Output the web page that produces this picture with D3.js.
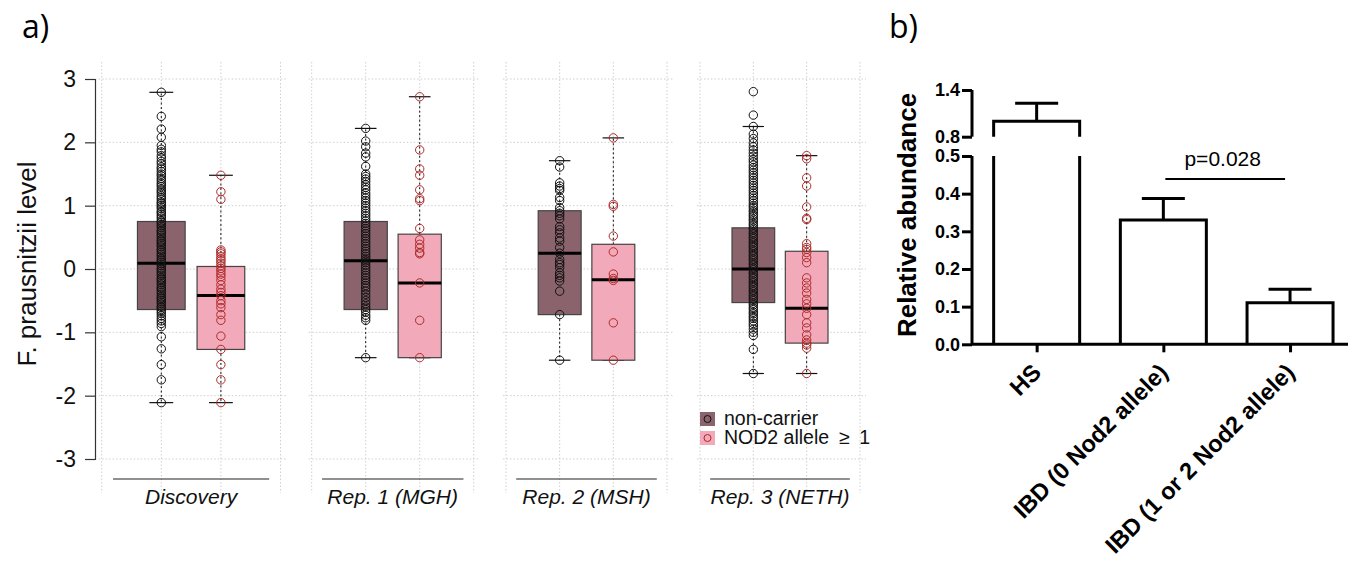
<!DOCTYPE html>
<html><head><meta charset="utf-8">
<script src="https://cdn.jsdelivr.net/npm/d3@7"></script>
<style>body{margin:0;background:#fff}</style>
</head><body><svg id="c" width="1348" height="565"></svg>
<script>
// ---------- DATA (panel a) ----------
const cohorts = ["Discovery", "Rep. 1 (MGH)", "Rep. 2 (MSH)", "Rep. 3 (NETH)"];
const groups = ["non-carrier", "NOD2 allele\u2002\u2265\u20021"];
// box stats: [lower whisker, Q1, median, Q3, upper whisker]
const statsNonCarrier = [[-2.11,-0.64,0.09,0.75,2.79],[-1.40,-0.64,0.13,0.75,2.22],[-1.44,-0.72,0.25,0.92,1.71],[-1.65,-0.53,0.00,0.65,2.25]];
const statsNod2 = [[-2.11,-1.27,-0.42,0.04,1.48],[-1.40,-1.40,-0.22,0.55,2.72],[-1.44,-1.44,-0.17,0.39,2.07],[-1.65,-1.17,-0.62,0.28,1.79]];
const ptsNonCarrier = [
 [2.79,2.41,2.21,2.08,1.95,1.89,1.85,1.79,1.75,1.7,1.66,1.61,1.58,1.54,1.5,1.47,1.43,1.4,1.36,1.33,1.3,1.26,1.23,1.2,1.16,1.13,1.1,1.06,1.04,1.01,0.98,0.95,0.91,0.89,0.86,0.83,0.8,0.76,0.74,0.71,0.68,0.65,0.61,0.59,0.56,0.53,0.5,0.46,0.44,0.41,0.38,0.35,0.31,0.29,0.26,0.23,0.2,0.16,0.14,0.11,0.08,0.05,0.01,-0.01,-0.04,-0.07,-0.1,-0.14,-0.16,-0.19,-0.22,-0.25,-0.29,-0.31,-0.34,-0.37,-0.4,-0.44,-0.46,-0.49,-0.52,-0.55,-0.59,-0.61,-0.64,-0.67,-0.7,-0.74,-0.78,-0.82,-0.86,-0.91,-1.07,-1.26,-1.51,-1.75,-2.11],
 [2.22,2.02,1.93,1.83,1.77,1.62,1.5,1.46,1.42,1.38,1.33,1.29,1.25,1.2,1.16,1.12,1.08,1.04,1.0,0.96,0.92,0.88,0.84,0.8,0.76,0.72,0.68,0.64,0.6,0.56,0.52,0.48,0.44,0.4,0.36,0.32,0.28,0.24,0.2,0.16,0.13,0.1,0.06,0.02,-0.02,-0.06,-0.1,-0.14,-0.18,-0.22,-0.26,-0.3,-0.35,-0.4,-0.45,-0.5,-0.55,-0.6,-0.64,-0.68,-0.73,-0.77,-0.81,-1.40],
 [1.71,1.61,1.36,1.31,1.27,1.24,1.13,1.08,0.97,0.92,0.88,0.84,0.79,0.67,0.62,0.57,0.49,0.44,0.34,0.25,0.15,0.1,0.07,0.02,-0.06,-0.1,-0.14,-0.19,-0.35,-0.72,-1.44],
 [2.80,2.43,2.25,2.13,2.06,1.99,1.93,1.88,1.83,1.78,1.73,1.69,1.64,1.6,1.56,1.52,1.48,1.44,1.4,1.36,1.32,1.28,1.24,1.2,1.16,1.12,1.08,1.04,1.0,0.97,0.93,0.9,0.86,0.83,0.79,0.76,0.72,0.69,0.65,0.62,0.58,0.55,0.51,0.48,0.44,0.41,0.37,0.34,0.3,0.27,0.23,0.2,0.16,0.13,0.09,0.06,0.02,-0.01,-0.05,-0.08,-0.12,-0.15,-0.19,-0.22,-0.26,-0.29,-0.33,-0.36,-0.4,-0.43,-0.47,-0.5,-0.54,-0.57,-0.61,-0.64,-0.68,-0.71,-0.75,-0.78,-0.82,-0.86,-0.9,-0.95,-1.0,-1.05,-1.27,-1.65]
];
const ptsNod2 = [
 [1.48,1.22,1.10,0.30,0.27,0.24,0.20,0.16,0.13,0.09,0.05,0.01,-0.03,-0.08,-0.12,-0.18,-0.25,-0.32,-0.37,-0.42,-0.5,-0.55,-0.61,-0.72,-0.81,-1.06,-1.27,-1.51,-1.75,-2.11],
 [2.72,1.88,1.58,1.48,1.25,1.11,1.08,0.64,0.46,0.39,0.33,0.26,0.24,-0.22,-0.81,-1.40],
 [2.07,1.02,0.99,0.52,0.27,-0.08,-0.15,-0.18,-0.85,-1.44],
 [1.79,1.74,1.44,1.31,0.98,0.8,0.78,0.4,0.34,0.31,0.26,0.18,0.1,-0.14,-0.22,-0.3,-0.38,-0.48,-0.55,-0.62,-0.72,-0.85,-0.93,-1.04,-1.12,-1.17,-1.2,-1.25,-1.65]
];
const yTicksA = [-3,-2,-1,0,1,2,3];
// ---------- DATA (panel b) ----------
const bCats = ["HS", "IBD (0 Nod2 allele)", "IBD (1 or 2 Nod2 allele)"];
const bMeans = [1.0, 0.33, 0.11];
const bErrTop = [1.23, 0.387, 0.146];
const bTicksLow = [0.0, 0.1, 0.2, 0.3, 0.4, 0.5];
const bTicksHigh = [0.8, 1.4];
const pText = "p=0.028";

// ---------- DRAW ----------
const svg = d3.select("#c");
svg.append("rect").attr("width",1348).attr("height",565).attr("fill","#fff");
const F = "'Liberation Sans', Arial, sans-serif";
const colFill = ["#8a636d", "#f2a9b9"];
const colPt = ["#111", "#b02a2a"];

svg.append("text").attr("x",22).attr("y",38).attr("font-family","'Open Sans', sans-serif").attr("font-size",32).text("a)");
svg.append("text").attr("x",889).attr("y",38).attr("font-family","'Open Sans', sans-serif").attr("font-size",32).text("b)");

const yA = d3.scaleLinear([-3,3],[459,79]);
const panelRanges = [[101.7,280.5],[311.7,473.7],[506,667],[700,860]];
const xs = panelRanges.map(r => d3.scaleLinear([0,3], r));

const gGrid = svg.append("g").attr("stroke","#cfcfcf").attr("stroke-width",1).attr("stroke-dasharray","1.5,2");
xs.forEach(x => {
  [0,1,2,3].forEach(i => gGrid.append("line").attr("x1",x(i)).attr("x2",x(i)).attr("y1",62).attr("y2",493));
  yTicksA.forEach(t => gGrid.append("line").attr("x1",x(0)-3).attr("x2",x(3)+6).attr("y1",yA(t)).attr("y2",yA(t)));
});

const axA = svg.append("g").attr("transform","translate(95,0)")
  .call(d3.axisLeft(yA).tickValues(yTicksA).tickSize(10).tickPadding(9).tickFormat(d3.format("d")));
axA.select(".domain").attr("stroke","#333").attr("stroke-width",1.2);
axA.selectAll(".tick line").attr("stroke","#333").attr("stroke-width",1.2);
axA.selectAll(".tick text").attr("font-family",F).attr("font-size",23).attr("fill","#111").text(d => d < 0 ? "-" + Math.abs(d) : d);
svg.append("text").attr("transform","translate(36,264) rotate(-90)").attr("text-anchor","middle")
  .attr("font-family",F).attr("font-size",26).attr("fill","#111").text("F. prausnitzii level");

const allStats = [statsNonCarrier, statsNod2];
const allPts = [ptsNonCarrier, ptsNod2];
cohorts.forEach((c, ci) => {
  const x = xs[ci];
  const g = svg.append("g");
  [0,1].forEach(k => {
    const s = allStats[k][ci];
    const cx = x(k+1);
    g.append("line").attr("x1",cx).attr("x2",cx).attr("y1",yA(s[3])).attr("y2",yA(s[4])).attr("stroke","#111").attr("stroke-dasharray","2,2.5").attr("stroke-width",1);
    g.append("line").attr("x1",cx).attr("x2",cx).attr("y1",yA(s[1])).attr("y2",yA(s[0])).attr("stroke","#111").attr("stroke-dasharray","2,2.5").attr("stroke-width",1);
    [s[0], s[4]].forEach(v => g.append("line").attr("x1",x(k+1-0.2)).attr("x2",x(k+1+0.2)).attr("y1",yA(v)).attr("y2",yA(v)).attr("stroke","#111").attr("stroke-width",1.2));
    g.append("rect").attr("x",x(k+1-0.4)).attr("width",x(k+1.4)-x(k+0.6)).attr("y",yA(s[3])).attr("height",yA(s[1])-yA(s[3]))
      .attr("fill",colFill[k]).attr("stroke","#444").attr("stroke-width",1.2);
    g.append("line").attr("x1",x(k+1-0.4)).attr("x2",x(k+1+0.4)).attr("y1",yA(s[2])).attr("y2",yA(s[2])).attr("stroke","#000").attr("stroke-width",3);
    g.selectAll(null).data(allPts[k][ci]).join("circle").attr("cx",cx).attr("cy",d => yA(d)).attr("r",4.2)
      .attr("fill","none").attr("stroke",colPt[k]).attr("stroke-width",1);
  });
  svg.append("line").attr("x1",x(0.19)).attr("x2",x(2.81)).attr("y1",479).attr("y2",479).attr("stroke","#222").attr("stroke-width",1.2);
  svg.append("text").attr("x",x(1.5)).attr("y",504).attr("text-anchor","middle").attr("font-family",F).attr("font-style","italic")
    .attr("font-size",21).attr("fill","#111").text(c);
});

const lg = svg.append("g");
groups.forEach((gname, k) => {
  const yy = 412 + k*19;
  lg.append("rect").attr("x",700).attr("y",yy).attr("width",15).attr("height",14).attr("fill",colFill[k]);
  lg.append("circle").attr("cx",707.5).attr("cy",yy+7).attr("r",3.5).attr("fill","none").attr("stroke",colPt[k]).attr("stroke-width",1);
  lg.append("text").attr("x",724).attr("y",yy+13).attr("font-family",F).attr("font-size",19.5).attr("fill","#111").text(gname);
});

// ---------- panel b ----------
const yLow = d3.scaleLinear([0,0.5],[344.3,156]);
const yHigh = d3.scaleLinear([0.8,1.4],[136.7,90]);
const xB = d3.scalePoint(bCats,[973.3,1353.4]).padding(0.5);
const barW = 86, lw = 3;
const axX0 = 972;
const gb = svg.append("g").attr("stroke","#000").attr("fill","none").attr("stroke-width",lw);
const yAny = v => v <= 0.5 ? yLow(v) : yHigh(v);
bCats.forEach((c,i) => {
  const cx = xB(c), x0 = cx - barW/2, x1 = cx + barW/2;
  const m = bMeans[i];
  if (m <= 0.5) {
    gb.append("path").attr("d",`M${x0},${yLow(0)}V${yLow(m)}H${x1}V${yLow(0)}`);
  } else {
    gb.append("path").attr("d",`M${x0},${yHigh(0.8)}V${yHigh(m)}H${x1}V${yHigh(0.8)}`);
    gb.append("path").attr("d",`M${x0},${yLow(0)}V${yLow(0.5)}M${x1},${yLow(0)}V${yLow(0.5)}`);
  }
  gb.append("line").attr("x1",cx).attr("x2",cx).attr("y1",yAny(m)).attr("y2",yAny(bErrTop[i]));
  gb.append("line").attr("x1",cx-barW/4).attr("x2",cx+barW/4).attr("y1",yAny(bErrTop[i])).attr("y2",yAny(bErrTop[i]));
});
const axL = svg.append("g").attr("transform",`translate(${axX0},0)`)
  .call(d3.axisLeft(yLow).tickValues(bTicksLow).tickSize(10).tickPadding(2).tickFormat(d3.format(".1f")));
const axH = svg.append("g").attr("transform",`translate(${axX0},0)`)
  .call(d3.axisLeft(yHigh).tickValues(bTicksHigh).tickSize(10).tickPadding(2).tickFormat(d3.format(".1f")));
[axL, axH].forEach(a => {
  a.selectAll(".tick line").attr("stroke","#000").attr("stroke-width",lw);
  a.selectAll(".tick text").attr("font-family",F).attr("font-weight","bold").attr("font-size",18).attr("fill","#000");
  a.select(".domain").attr("stroke","#000").attr("stroke-width",lw);
});
axL.select(".domain").attr("d",`M0,${yLow(0.5)}V${yLow(0)}`);
axH.select(".domain").attr("d",`M0,${yHigh(1.4)}V${yHigh(0.8)}`);
const axB = svg.append("g").attr("transform",`translate(0,${yLow(0)})`)
  .call(d3.axisBottom(xB).tickSize(8).tickSizeOuter(0).tickPadding(4));
axB.select(".domain").attr("stroke","#000").attr("stroke-width",lw).attr("d",`M${axX0},0H1348`);
axB.selectAll(".tick line").attr("stroke","#000").attr("stroke-width",lw);
axB.selectAll(".tick text").attr("font-family",F).attr("font-weight","bold").attr("font-size",23.5).attr("fill","#000")
  .attr("text-anchor","end").attr("dy",null).attr("transform","translate(-3,21) rotate(-45)");
svg.append("text").attr("transform","translate(916,215) rotate(-90)").attr("text-anchor","middle")
  .attr("font-family",F).attr("font-weight","bold").attr("font-size",26).attr("fill","#000").text("Relative abundance");
svg.append("line").attr("x1",xB(bCats[1])+2).attr("x2",xB(bCats[2])-5).attr("y1",179).attr("y2",179).attr("stroke","#000").attr("stroke-width",2);
svg.append("text").attr("x",(xB(bCats[1])+xB(bCats[2]))/2-4).attr("y",166).attr("text-anchor","middle").attr("font-family",F).attr("font-size",21).attr("fill","#000").text(pText);
</script>
</body></html>
